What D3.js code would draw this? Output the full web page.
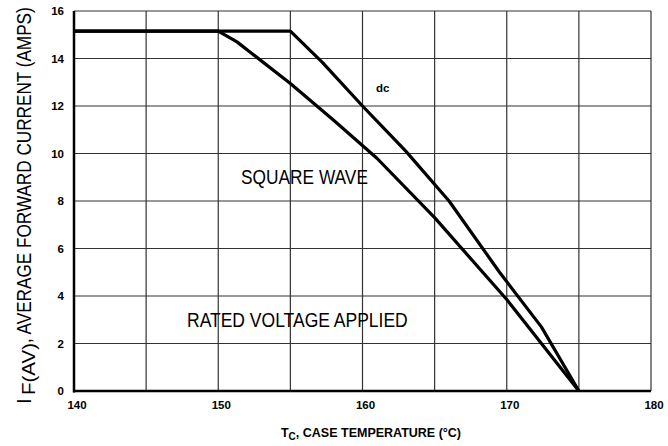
<!DOCTYPE html>
<html>
<head>
<script src="https://cdn.jsdelivr.net/npm/d3@7"></script>
<style>
  body { margin: 0; background: #fff; }
  text { font-family: "Liberation Sans", Arial, sans-serif; }
</style>
</head>
<body>
<svg id="chart" width="668" height="446"></svg>
<script>
// data
const xTicks = [140, 150, 160, 170, 180];
const yTicks = [0, 2, 4, 6, 8, 10, 12, 14, 16];
const xGrid = [145, 150, 155, 160, 165, 170, 175, 180];
const yGrid = [2, 4, 6, 8, 10, 12, 14, 16];

const dcTemp = [140, 155, 157.2, 160, 163, 166, 169.5, 172.4, 175];
const dcAmps = [15.15, 15.15, 13.85, 12.0, 10.1, 8.0, 5.0, 2.7, 0];

const sqTemp = [140, 150, 151.3, 155, 158, 161, 165, 170, 175];
const sqAmps = [15.15, 15.15, 14.7, 12.95, 11.4, 9.8, 7.3, 3.85, 0];

var svg = d3.select("#chart");
// plot box (note: "top" is reserved on window, so use pTop etc.)
var pLeft = 74, pRight = 651, pTop = 11, pBottom = 391;

var x = d3.scaleLinear().domain([140, 180]).range([pLeft, pRight]);
var y = d3.scaleLinear().domain([0, 16]).range([pBottom, pTop]);

// grid
svg.append("g").selectAll("line").data(xGrid).join("line")
    .attr("x1", d => x(d)).attr("x2", d => x(d))
    .attr("y1", pTop).attr("y2", pBottom)
    .attr("stroke", "#333").attr("stroke-width", 1.2);
svg.append("g").selectAll("line").data(yGrid).join("line")
    .attr("x1", pLeft).attr("x2", pRight)
    .attr("y1", d => y(d)).attr("y2", d => y(d))
    .attr("stroke", "#333").attr("stroke-width", 1.2);

// heavy axes
svg.append("line").attr("x1", pLeft).attr("x2", pLeft).attr("y1", pTop).attr("y2", pBottom + 1.5)
    .attr("stroke", "#000").attr("stroke-width", 2.5);
svg.append("line").attr("x1", pLeft - 1).attr("x2", pRight).attr("y1", pBottom).attr("y2", pBottom)
    .attr("stroke", "#000").attr("stroke-width", 2.5);

// tick labels
svg.append("g").selectAll("text").data(yTicks).join("text")
    .attr("x", 64).attr("y", d => y(d) + 4)
    .attr("text-anchor", "end")
    .attr("font-size", 11.5).attr("font-weight", "bold")
    .text(d => d);
svg.append("g").selectAll("text").data(xTicks).join("text")
    .attr("x", d => x(d) + 3).attr("y", 409)
    .attr("text-anchor", "middle")
    .attr("font-size", 11.5).attr("font-weight", "bold")
    .text(d => d);

// curves
var line = d3.line().x(d => x(d[0])).y(d => y(d[1]));
svg.append("path")
    .attr("d", line(d3.zip(sqTemp, sqAmps)))
    .attr("fill", "none").attr("stroke", "#000").attr("stroke-width", 3.2)
    .attr("stroke-linejoin", "round");
svg.append("path")
    .attr("d", line(d3.zip(dcTemp, dcAmps)))
    .attr("fill", "none").attr("stroke", "#000").attr("stroke-width", 3.2)
    .attr("stroke-linejoin", "round");

// squeeze a text horizontally (reference uses a narrow face)
function narrow(sel, width) {
    var w = sel.node().getComputedTextLength();
    var x0 = +sel.attr("x");
    sel.attr("transform", "translate(" + x0 + ",0) scale(" + (width / w) + ",1) translate(" + (-x0) + ",0)");
}

// annotations
svg.append("text").attr("x", 376).attr("y", 92)
    .attr("font-size", 11.5).attr("font-weight", "bold").text("dc");
narrow(svg.append("text").attr("x", 241).attr("y", 184)
    .attr("font-size", 20.5).text("SQUARE WAVE"), 127);
narrow(svg.append("text").attr("x", 187).attr("y", 327)
    .attr("font-size", 20.5).text("RATED VOLTAGE APPLIED"), 221);

// axis titles
var xt = svg.append("text").attr("x", 371).attr("y", 437).attr("text-anchor", "middle")
    .attr("font-size", 12.5).attr("font-weight", "bold");
xt.append("tspan").text("T");
xt.append("tspan").attr("font-size", 10).attr("dy", 3).text("C");
xt.append("tspan").attr("dy", -3).text(", CASE TEMPERATURE (°C)");

var yg = svg.append("g").attr("transform", "translate(31,404) rotate(-90)");
yg.append("text").attr("x", 0).attr("y", 0)
    .attr("font-size", 20.5).text("I");
narrow(yg.append("text").attr("x", 9).attr("y", 4)
    .attr("font-size", 19).text("F(AV)"), 52);
narrow(yg.append("text").attr("x", 61).attr("y", 0)
    .attr("font-size", 20.5).text(", AVERAGE FORWARD CURRENT (AMPS)"), 336);
</script>
</body>
</html>
